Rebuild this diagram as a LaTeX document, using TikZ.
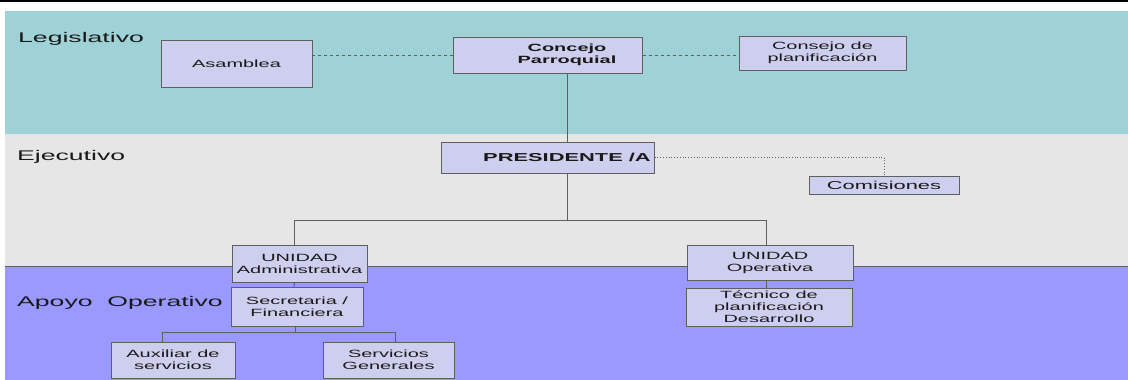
\documentclass[tikz,border=0pt]{standalone}
\usepackage{fontspec}
\setmainfont{Liberation Sans}[FakeStretch=1.9]
\usetikzlibrary{calc}
\definecolor{legis}{RGB}{158,210,214}
\definecolor{ejec}{RGB}{230,230,230}
\definecolor{apoyo}{RGB}{153,153,255}
\definecolor{relleno}{RGB}{206,206,238}
\definecolor{borde}{RGB}{95,95,95}
\definecolor{texto}{RGB}{25,25,25}

\begin{document}
\begin{tikzpicture}[x=1pt, y=-1pt,
    caja/.style={draw=borde, line width=1, fill=relleno, align=center, inner sep=0,
      text=texto, font=\fontsize{10.5}{12}\selectfont},
    rotulo/.style={align=center, inner sep=0, text=texto, font=\fontsize{11.5}{12}\selectfont\bfseries},
    franja/.style={anchor=west, inner sep=0, text=texto, font=\fontsize{14}{16}\selectfont},
    liga/.style={draw=borde, line width=1}]
            \useasboundingbox (0,0) rectangle (1128,380);
            % Franjas de fondo
            \fill[black] (0,0) rectangle (1128,1.5);
            \fill[legis] (5,11) rectangle (1128,134);
            \fill[ejec] (5,134) rectangle (1128,266);
            \fill[apoyo] (5,266) rectangle (1128,380);
            \draw[borde, line width=0.8] (5,266) -- (1128,266);
            \node[franja] (legislativo) at (18,39) {Legislativo};
            \node[franja] (ejecutivo) at (17,157) {Ejecutivo};
            \node[franja] (apoyoop) at (17,303) {Apoyo\ \ Operativo};
            % Nivel legislativo
            \node[caja, minimum width=151, minimum height=47] (asamblea) at (236.5,63.5) {Asamblea};
            \node[caja, minimum width=189, minimum height=36] (concejo) at (547.5,55) {};
            \node[rotulo, font=\fontsize{10.5}{12}\selectfont\bfseries] (concejotxt) at (567,55) {Concejo\\Parroquial};
            \node[caja, minimum width=167, minimum height=34] (consejo) at (822.5,53) {Consejo de\\planificación};
            % Nivel ejecutivo
            \node[caja, minimum width=213, minimum height=31] (presidente) at (547.5,157.5) {};
            \node[rotulo] (presidentetxt) at (567,157.5) {PRESIDENTE /A};
            \node[caja, minimum width=150, minimum height=18, font=\fontsize{11.5}{12}\selectfont] (comisiones) at (884,185) {Comisiones};
            % Apoyo operativo
            \node[caja, minimum width=135, minimum height=37] (uadmin) at (299.5,263.5) {UNIDAD\\Administrativa};
            \node[caja, minimum width=166, minimum height=35] (uoper) at (770,262.5) {UNIDAD\\Operativa};
            \node[caja, minimum width=132, minimum height=39] (secretaria) at (297,306.5) {Secretaria /\\Financiera};
            \node[caja, minimum width=166, minimum height=38] (tecnico) at (769,307) {Técnico de\\planificación\\Desarrollo};
            \node[caja, minimum width=124, minimum height=36] (auxiliar) at (173,360) {Auxiliar de\\servicios};
            \node[caja, minimum width=131, minimum height=36] (servicios) at (388.5,360) {Servicios\\Generales};
            % Conectores
            \coordinate (eje) at (567,0);
            \coordinate (barra) at (0,220);
            \coordinate (barrab) at (0,332);
            \coordinate (ua) at ([xshift=-5]uadmin.north);
            \coordinate (uo) at ([xshift=-4]uoper.north);
            \coordinate (ax) at ([xshift=-11]auxiliar.north);
            \coordinate (sv) at ([xshift=7]servicios.north);
            \draw[borde, dashed] (concejo.west) -- (concejo.west -| asamblea.east);
            \draw[borde, dashed] (concejo.east) -- (concejo.east -| consejo.west);
            \draw[borde, dotted, line width=0.8] (presidente.east) -| (comisiones.north);
            \draw[liga] (concejo.south -| eje) -- (presidente.north -| eje);
            \draw[liga] (presidente.south -| eje) -- (barra -| eje);
            \draw[liga] (ua) -- (ua |- barra) -- (uo |- barra) -- (uo);
            \draw[liga] ([xshift=-5]uadmin.south) -- ([xshift=-3]secretaria.north);
            \draw[liga] ([xshift=-4]uoper.south) -- ([xshift=-3]tecnico.north);
            \draw[liga] ([xshift=-2]secretaria.south) -- ([xshift=-2]secretaria.south |- barrab);
            \draw[liga] (ax) -- (ax |- barrab) -- (sv |- barrab) -- (sv);
        \end{tikzpicture}
\end{document}
